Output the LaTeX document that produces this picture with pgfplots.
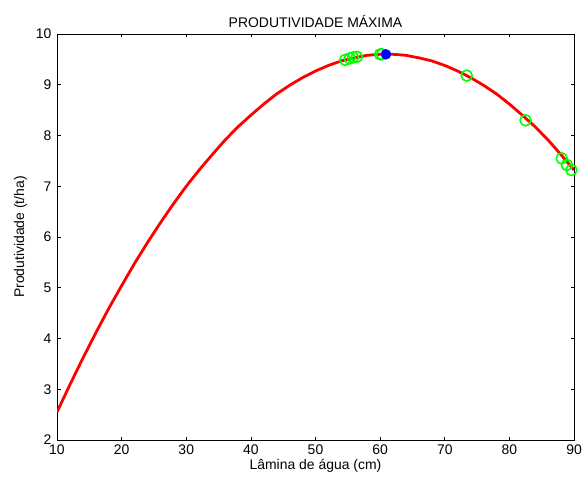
\documentclass[border=0pt]{standalone}
\usepackage{pgfplots}
\pgfplotsset{compat=1.18}
\usepackage{fontspec}
\setmainfont{Liberation Sans}
\definecolor{mred}{rgb}{1,0,0}
\definecolor{mgreen}{rgb}{0,1,0}
\definecolor{mblue}{rgb}{0,0,1}
\begin{document}
\begin{tikzpicture}
\begin{axis}[name=ax, scale only axis, width=517bp, height=406bp,
  xmin=10, xmax=90, ymin=2, ymax=10,
  xtick={10,20,...,90}, ytick={2,3,...,10},
  tick align=inside, major tick length=3.5bp,
  axis line style={line width=0.8bp},
  every tick/.style={black, line width=0.6bp},
  font=\fontsize{14}{16}\selectfont,
  tick label style={font=\fontsize{14}{16}\selectfont},
  /pgf/number format/assume math mode=true,
  xticklabel style={yshift=-1bp},
  yticklabel style={xshift=-2bp},
  title={PRODUTIVIDADE MÁXIMA},
  title style={yshift=-3bp},
  xlabel={Lâmina de água (cm)},
  ylabel={Produtividade (t/ha)},
  xlabel style={yshift=2bp},
  ylabel style={yshift=2bp},
]
\addplot[mred, line width=2.8bp, line join=round] coordinates {
(10,2.55) (12,3.09) (14,3.61) (16,4.11) (18,4.59) (20,5.04) (22,5.48)
(24,5.89) (26,6.28) (28,6.65) (30,7.00) (32,7.32) (34,7.62) (36,7.91)
(38,8.17) (40,8.40) (42,8.62) (44,8.82) (46,8.99) (48,9.14) (50,9.27)
(52,9.38) (54,9.47) (56,9.53) (58,9.58) (60,9.60) (62,9.60) (64,9.58)
(66,9.53) (68,9.47) (70,9.38) (72,9.27) (74,9.14) (76,8.99) (78,8.82)
(80,8.62) (82,8.40) (84,8.17) (86,7.91) (88,7.62) (90,7.32)
};
\addplot[only marks, mark=o, mark size=5.5bp, mgreen, mark options={line width=1.6bp}] coordinates {
(54.6,9.49) (55.3,9.52) (55.8,9.54) (56.4,9.55) (60.0,9.60) (60.3,9.60)
(73.4,9.18) (82.5,8.30) (88.1,7.55) (88.9,7.42) (89.6,7.32)
};
\addplot[only marks, mark=*, mark size=5bp, mblue, mark options={fill=mblue, draw=mblue}] coordinates {
(60.9,9.60)
};
\end{axis}
\pgfresetboundingbox
\path ([shift={(-57bp,-46bp)}]ax.south west) rectangle ([shift={(8bp,34bp)}]ax.north east);
\end{tikzpicture}
\end{document}
